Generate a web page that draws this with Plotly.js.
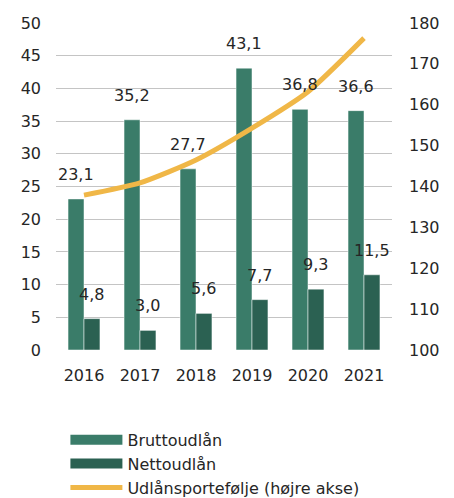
<!DOCTYPE html>
<html>
<head>
<meta charset="utf-8">
<script src="https://cdn.plot.ly/plotly-3.0.1.min.js"></script>
<style>html,body{margin:0;padding:0;background:#fff;}#chart{width:454px;height:498px;}</style>
</head>
<body>
<div id="chart"></div>
<script>
const years = ['2016','2017','2018','2019','2020','2021'];
const brutto = [23.1, 35.2, 27.7, 43.1, 36.8, 36.6];
const netto = [4.8, 3.0, 5.6, 7.7, 9.3, 11.5];
const portefolje = [137.9, 140.9, 146.5, 154.3, 163.2, 176.3];
const names = ['Bruttoudlån', 'Nettoudlån', 'Udlånsportefølje (højre akse)'];
const colors = ['#3a7c69', '#2b6152', '#f0b747'];

const fmt = v => v.toFixed(1).replace('.', ',');
const FONT = 'DejaVu Sans, sans-serif';
const TXT = '#262626';
const bargap = 0.43;
const half = (1 - bargap) / 4;

const traces = [
  {type:'bar', x:years, y:brutto, name:names[0], showlegend:false, marker:{color:colors[0], line:{color:'#ffffff', width:0.5}}, hoverinfo:'skip'},
  {type:'bar', x:years, y:netto, name:names[1], showlegend:false, marker:{color:colors[1], line:{color:'#ffffff', width:0.5}}, hoverinfo:'skip'},
  {type:'scatter', mode:'lines', x:[null], y:[null], name:names[0], legendrank:1, line:{color:colors[0], width:10}, hoverinfo:'skip'},
  {type:'scatter', mode:'lines', x:[null], y:[null], name:names[1], legendrank:2, line:{color:colors[1], width:10}, hoverinfo:'skip'},
  {type:'scatter', mode:'lines', x:years, y:portefolje, name:names[2], legendrank:3, yaxis:'y2', line:{color:colors[2], width:5, shape:'spline', smoothing:0.6}, hoverinfo:'skip'}
];

const annotations = [];
brutto.forEach((v,i)=>annotations.push({x:i-half, y:v, xref:'x', yref:'y', text:fmt(v), showarrow:false, yanchor:'bottom', yshift:13, font:{family:FONT,size:16,color:TXT}}));
netto.forEach((v,i)=>annotations.push({x:i+half, y:v, xref:'x', yref:'y', text:fmt(v), showarrow:false, yanchor:'bottom', yshift:13, font:{family:FONT,size:16,color:TXT}}));

const layout = {
  width:454, height:498,
  margin:{l:56, r:62, t:23, b:148, autoexpand:false},
  paper_bgcolor:'#fff', plot_bgcolor:'#fff',
  font:{family:FONT, size:16, color:TXT},
  barmode:'group', bargap:bargap, bargroupgap:0,
  showlegend:true,
  xaxis:{type:'category', showgrid:false, zeroline:false, showline:false, ticks:'', automargin:false, ticklabelstandoff:14, tickfont:{family:FONT,size:16,color:TXT}},
  yaxis:{range:[0,50], dtick:5, showgrid:true, gridcolor:'#c4c4c4', gridwidth:1, zeroline:false, showline:false, ticks:'', automargin:false, ticklabelstandoff:14, tickfont:{family:FONT,size:16,color:TXT}},
  yaxis2:{range:[100,180], dtick:10, overlaying:'y', side:'right', showgrid:false, zeroline:false, showline:false, ticks:'', automargin:false, ticklabelstandoff:16, tickfont:{family:FONT,size:16,color:TXT}},
  legend:{orientation:'v', x:0.028, xanchor:'left', y:-0.223, yanchor:'top', font:{family:FONT,size:16,color:TXT}, itemwidth:52, tracegroupgap:0, bgcolor:'rgba(0,0,0,0)'},
  annotations:annotations
};

Plotly.newPlot('chart', traces, layout, {displayModeBar:false, staticPlot:true});
</script>
</body>
</html>
